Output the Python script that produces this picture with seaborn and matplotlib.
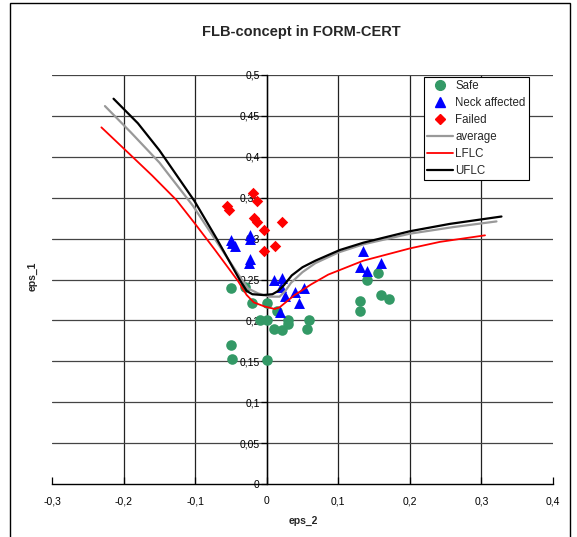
import numpy as np
import pandas as pd
import matplotlib
matplotlib.use("Agg")
import matplotlib.pyplot as plt
from matplotlib.ticker import FuncFormatter
from matplotlib.lines import Line2D
from matplotlib.patches import Rectangle
import seaborn as sns

# -------------------------------------------------------
# Data
# -------------------------------------------------------
safe_x = [-0.050, -0.030, -0.020, 0.000, 0.014, -0.010, 0.000, 0.030, 0.030, 0.010, 0.021,
          0.059, 0.056, -0.050, -0.048, 0.000, 0.140, 0.156, 0.131, 0.130, 0.160, 0.171]
safe_y = [0.240, 0.241, 0.221, 0.221, 0.211, 0.200, 0.200, 0.201, 0.196, 0.190, 0.188,
          0.200, 0.190, 0.170, 0.153, 0.151, 0.250, 0.258, 0.224, 0.211, 0.231, 0.226]

neck_x = [-0.050, -0.048, -0.045, -0.023, -0.023, -0.024, -0.025, 0.010, 0.021, 0.020,
          0.025, 0.040, 0.052, 0.045, 0.018, 0.135, 0.130, 0.140, 0.160]
neck_y = [0.298, 0.295, 0.291, 0.305, 0.299, 0.275, 0.270, 0.250, 0.252, 0.241,
          0.230, 0.235, 0.240, 0.221, 0.210, 0.285, 0.265, 0.261, 0.270]

failed_x = [-0.055, -0.053, -0.019, -0.014, -0.018, -0.014, -0.004, 0.021, -0.004, 0.011]
failed_y = [0.340, 0.335, 0.356, 0.346, 0.325, 0.320, 0.310, 0.320, 0.285, 0.291]

avg_x = [-0.226, -0.190, -0.150, -0.103, -0.060, -0.038, -0.026, -0.012, 0.004, 0.018,
         0.026, 0.034, 0.050, 0.068, 0.100, 0.135, 0.200, 0.260, 0.321]
avg_y = [0.462, 0.430, 0.393, 0.340, 0.283, 0.254, 0.239, 0.233, 0.229, 0.229,
         0.236, 0.246, 0.259, 0.270, 0.283, 0.293, 0.306, 0.314, 0.321]

lflc_x = [-0.231, -0.196, -0.160, -0.126, -0.100, -0.073, -0.040, -0.028, -0.018, -0.003,
          0.011, 0.018, 0.039, 0.062, 0.086, 0.135, 0.200, 0.242, 0.305]
lflc_y = [0.436, 0.407, 0.377, 0.347, 0.318, 0.287, 0.248, 0.231, 0.222, 0.217,
          0.214, 0.216, 0.231, 0.244, 0.256, 0.273, 0.288, 0.296, 0.304]

uflc_x = [-0.214, -0.180, -0.150, -0.101, -0.070, -0.038, -0.028, -0.020, -0.005, 0.008,
          0.016, 0.024, 0.035, 0.050, 0.068, 0.102, 0.135, 0.200, 0.256, 0.328]
uflc_y = [0.471, 0.441, 0.408, 0.346, 0.300, 0.250, 0.236, 0.232, 0.231, 0.232,
          0.236, 0.243, 0.255, 0.265, 0.273, 0.286, 0.295, 0.309, 0.318, 0.327]

x_ticks = [-0.3, -0.2, -0.1, 0.0, 0.1, 0.2, 0.3, 0.4]
y_ticks = [0.0, 0.05, 0.1, 0.15, 0.2, 0.25, 0.3, 0.35, 0.4, 0.45, 0.5]

GREEN = "#339966"
BLUE = "#0000FF"
RED = "#FF0000"
GREY = "#999999"

sns.set_style("white")
plt.rcParams["font.family"] = ["Liberation Sans", "DejaVu Sans"]

fig = plt.figure(figsize=(5.77, 5.37), dpi=100)
ax = fig.add_axes([52 / 577, 1 - 484 / 537, 501 / 577, 409 / 537])

# points
sns.scatterplot(x=safe_x, y=safe_y, ax=ax, color=GREEN, marker="o", s=58,
                edgecolor=GREEN, linewidth=0, zorder=3)
sns.scatterplot(x=neck_x, y=neck_y, ax=ax, color=BLUE, marker="^", s=62,
                edgecolor=BLUE, linewidth=0, zorder=3)
sns.scatterplot(x=failed_x, y=failed_y, ax=ax, color=RED, marker="D", s=34,
                edgecolor=RED, linewidth=0, zorder=3)

# limit curves
sns.lineplot(x=avg_x, y=avg_y, ax=ax, color=GREY, linewidth=1.6, sort=False,
             estimator=None, zorder=4)
sns.lineplot(x=lflc_x, y=lflc_y, ax=ax, color=RED, linewidth=1.3, sort=False,
             estimator=None, zorder=4)
sns.lineplot(x=uflc_x, y=uflc_y, ax=ax, color="black", linewidth=1.6, sort=False,
             estimator=None, zorder=4)

ax.set_xlim(-0.3, 0.4)
ax.set_ylim(0, 0.5)
ax.set_xticks(x_ticks)
ax.set_yticks(y_ticks)

comma = FuncFormatter(lambda v, p: ("%g" % round(v, 3)).replace(".", ","))
ax.xaxis.set_major_formatter(comma)
ax.yaxis.set_major_formatter(comma)

# grid lines only inside the plot area (none at -0,3 and 0,4)
for xv in x_ticks[1:-1]:
    ax.axvline(xv, color="#222222", linewidth=0.9, zorder=0)
for yv in y_ticks[1:]:
    ax.axhline(yv, color="#444444", linewidth=0.9, zorder=0)

for side in ["top", "right"]:
    ax.spines[side].set_visible(False)
ax.spines["left"].set_position(("data", 0))
ax.spines["left"].set_color("black")
ax.spines["left"].set_linewidth(1.0)
ax.spines["bottom"].set_color("black")
ax.spines["bottom"].set_linewidth(1.0)

ax.tick_params(axis="x", direction="in", length=5, width=0.9, labelsize=7.5, pad=9,
               bottom=True, colors="black")
ax.tick_params(axis="y", direction="out", length=4, width=0.9, labelsize=7.5, pad=1,
               left=True, colors="black")
ax.set_xlabel("")
ax.set_ylabel("")

fig.text(301 / 577, 1 - 32 / 537, "FLB-concept in FORM-CERT", ha="center", va="center",
         fontsize=10.5, fontweight="bold")
fig.text(303 / 577, 1 - 521 / 537, "eps_2", ha="center", va="center", fontsize=7.5,
         fontweight="bold")
fig.text(33 / 577, 1 - 276 / 537, "eps_1", ha="center", va="center", fontsize=7.5,
         fontweight="bold", rotation=90)

handles = [
    Line2D([], [], linestyle="none", marker="o", color=GREEN, markersize=7),
    Line2D([], [], linestyle="none", marker="^", color=BLUE, markersize=7.5),
    Line2D([], [], linestyle="none", marker="D", color=RED, markersize=5.5),
    Line2D([], [], color=GREY, linewidth=1.6),
    Line2D([], [], color=RED, linewidth=1.3),
    Line2D([], [], color="black", linewidth=1.6),
]
labels = ["Safe", "Neck affected", "Failed", "average", "LFLC", "UFLC"]
leg = ax.legend(handles, labels, loc="upper left",
                bbox_to_anchor=((424 - 52) / 501, (484 - 77) / 409),
                fontsize=8.3, frameon=True, fancybox=False, framealpha=1,
                edgecolor="black", borderpad=0.3, labelspacing=0.42,
                handlelength=2.2, handletextpad=0.2, borderaxespad=0)
leg.get_frame().set_linewidth(0.8)
leg.set_zorder(10)

# outer chart border
fig.patches.append(Rectangle((10 / 577, -0.01), 560 / 577, 1.005, transform=fig.transFigure,
                             fill=False, edgecolor="black", linewidth=1.0))

plt.savefig("out.png", dpi=100)
plt.close()
